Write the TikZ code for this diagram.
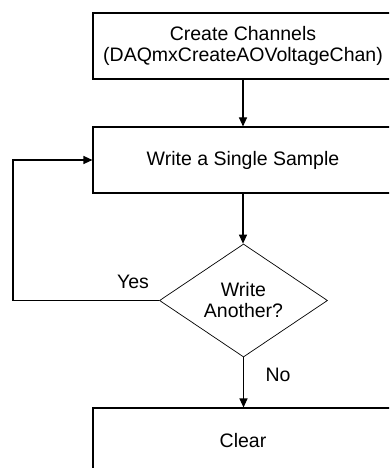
\documentclass[tikz,border=0pt]{standalone}
\usepackage{fontspec}
\setmainfont{Liberation Sans}
\usetikzlibrary{shapes.geometric,arrows.meta}
\begin{document}
\begin{tikzpicture}[x=1pt,y=-1pt,
  font=\fontsize{19.5}{21}\selectfont,
  line width=1.1pt,
  procbox/.style={draw, rectangle, minimum width=300pt, minimum height=66pt, inner sep=0pt, align=center},
  decision/.style={draw, diamond, line width=0.7pt, minimum width=168pt, minimum height=113pt, inner sep=0pt, aspect=1.5, align=center},
  flow/.style={-{Triangle[length=9pt,width=8pt]}},
  lbl/.style={inner sep=0pt}]
\useasboundingbox (0,0) rectangle (389,468);
\clip (0,0) rectangle (389,468);
\node[procbox] (create) at (243,46) {Create Channels\\(DAQmxCreateAOVoltageChan)};
\node[procbox] (write) at (243,160) {Write a Single Sample};
\node[decision] (dec) at (243.5,300.5) {Write\\Another?};
\node[procbox] (clear) at (243,441) {Clear};
\coordinate (loop) at (13,0);
\draw[flow] (create.south) -- (write.north);
\draw[flow] (write.south) -- (write.south |- dec.north);
\draw[flow] (dec.south) -- (dec.south |- clear.north);
\draw[flow] (dec.west) -- (dec.west -| loop) |- (write.west);
\node[lbl] (yes) at (133,282) {Yes};
\node[lbl] (no) at (278,375) {No};
\end{tikzpicture}
\end{document}
